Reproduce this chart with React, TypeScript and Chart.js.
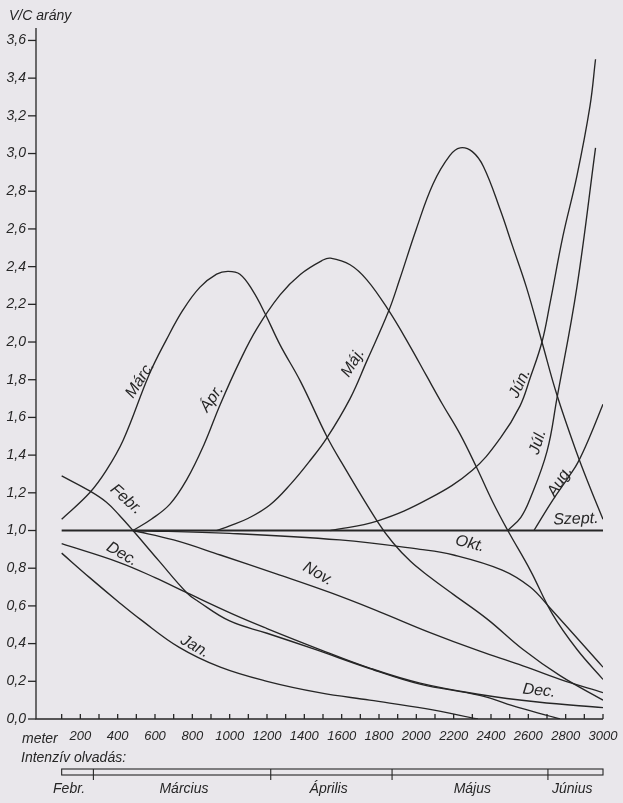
import { useEffect, useRef } from "react";
import { Chart, registerables } from "chart.js";

Chart.register(...registerables);

const W = 623;
const H = 803;
const BG = "#e9e7eb";
const INK = "#262626";
const FONT = '"Liberation Sans Narrow", "Liberation Sans", "DejaVu Sans", sans-serif';

// ---- data: [altitude in metres, V/C ratio] ----
const szept = [[100, 1.0], [3000, 1.0]];
const jan = [[100, 0.88], [250, 0.75], [400, 0.625], [520, 0.53], [730, 0.38], [950, 0.275], [1200, 0.2], [1480, 0.14], [1750, 0.1], [2050, 0.055], [2330, 0.0]];
const febr = [[100, 1.29], [250, 1.21], [340, 1.15], [410, 1.08], [482, 1.0], [620, 0.84], [770, 0.67], [830, 0.625], [1000, 0.52], [1200, 0.455], [1450, 0.372], [1750, 0.268], [2020, 0.185], [2340, 0.125], [2550, 0.06], [2770, 0.0]];
const marc = [[100, 1.06], [250, 1.2], [340, 1.32], [430, 1.48], [570, 1.83], [660, 2.01], [750, 2.17], [840, 2.29], [930, 2.36], [990, 2.375], [1055, 2.36], [1125, 2.27], [1190, 2.15], [1270, 1.985], [1380, 1.79], [1520, 1.5], [1600, 1.36], [1790, 1.05], [1875, 0.935], [1970, 0.835], [2070, 0.755], [2200, 0.66], [2380, 0.53], [2570, 0.37], [2770, 0.23], [3000, 0.1]];
const apr = [[482, 1.0], [580, 1.06], [680, 1.14], [770, 1.27], [860, 1.45], [950, 1.67], [1055, 1.9], [1145, 2.07], [1270, 2.25], [1380, 2.36], [1500, 2.435], [1540, 2.445], [1645, 2.41], [1735, 2.33], [1850, 2.17], [1965, 1.98], [2055, 1.82], [2140, 1.67], [2235, 1.51], [2325, 1.33], [2410, 1.15], [2490, 1.0], [2610, 0.79], [2730, 0.555], [2860, 0.37], [3000, 0.21]];
const maj = [[930, 1.0], [1000, 1.025], [1100, 1.065], [1215, 1.135], [1330, 1.25], [1430, 1.37], [1520, 1.49], [1645, 1.7], [1735, 1.9], [1850, 2.16], [1910, 2.33], [2000, 2.6], [2090, 2.84], [2180, 2.99], [2235, 3.03], [2300, 3.01], [2360, 2.93], [2450, 2.7], [2515, 2.51], [2590, 2.29], [2673, 2.0], [2753, 1.72], [2860, 1.41], [2930, 1.23], [3000, 1.06]];
const jun = [[1540, 1.0], [1790, 1.05], [2070, 1.17], [2300, 1.32], [2450, 1.49], [2555, 1.66], [2610, 1.81], [2673, 2.0], [2715, 2.2], [2785, 2.56], [2860, 2.88], [2930, 3.25], [2960, 3.5]];
const jul = [[2490, 1.0], [2560, 1.07], [2610, 1.17], [2700, 1.42], [2753, 1.7], [2860, 2.29], [2960, 3.03]];
const aug = [[2630, 1.0], [2730, 1.16], [2820, 1.29], [2865, 1.36], [2930, 1.5], [3000, 1.67]];
const okt = [[482, 1.0], [1000, 0.985], [1590, 0.95], [2020, 0.9], [2200, 0.87], [2460, 0.79], [2610, 0.7], [2715, 0.59], [3000, 0.275]];
const nov = [[482, 1.0], [700, 0.95], [950, 0.87], [1250, 0.77], [1540, 0.67], [1800, 0.57], [2070, 0.46], [2340, 0.36], [2550, 0.29], [2770, 0.21], [3000, 0.14]];
const dec = [[100, 0.93], [410, 0.83], [600, 0.75], [770, 0.67], [1020, 0.555], [1200, 0.48], [1480, 0.37], [1750, 0.27], [2020, 0.19], [2340, 0.13], [2650, 0.09], [3000, 0.06]];

const series = [
  { name: "Szept.", data: szept, width: 2 },
  { name: "Jan.", data: jan },
  { name: "Febr.", data: febr },
  { name: "Márc.", data: marc },
  { name: "Ápr.", data: apr },
  { name: "Máj.", data: maj },
  { name: "Jún.", data: jun },
  { name: "Júl.", data: jul },
  { name: "Aug.", data: aug },
  { name: "Okt.", data: okt },
  { name: "Nov.", data: nov },
  { name: "Dec.", data: dec },
];

// ---- axes ----
const yTicks = [0, 0.2, 0.4, 0.6, 0.8, 1.0, 1.2, 1.4, 1.6, 1.8, 2.0, 2.2, 2.4, 2.6, 2.8, 3.0, 3.2, 3.4, 3.6];
const xTicks = [100, 200, 300, 400, 500, 600, 700, 800, 900, 1000, 1100, 1200, 1300, 1400, 1500, 1600, 1700, 1800, 1900, 2000, 2100, 2200, 2300, 2400, 2500, 2600, 2700, 2800, 2900, 3000];
const xTickLabels = [200, 400, 600, 800, 1000, 1200, 1400, 1600, 1800, 2000, 2200, 2400, 2600, 2800, 3000];

// ---- intensive melting timeline ----
const meltBounds = [100, 270, 1220, 1870, 2705, 3000];
const meltMonths = ["Febr.", "Március", "Április", "Május", "Június"];
const meltLabelAt = [140, 755, 1530, 2300, 2835];

// ---- curve labels: [text, altitude, ratio, rotation deg] ----
const curveLabels: [string, number, number, number][] = [
  ["Márc.", 520, 1.8, -57],
  ["Ápr.", 905, 1.7, -55],
  ["Máj.", 1660, 1.89, -58],
  ["Jún.", 2555, 1.78, -65],
  ["Júl.", 2651, 1.47, -72],
  ["Aug.", 2769, 1.26, -58],
  ["Szept.", 2855, 1.06, -2],
  ["Okt.", 2287, 0.93, 14],
  ["Nov.", 1473, 0.77, 30],
  ["Febr.", 445, 1.165, 42],
  ["Dec.", 423, 0.875, 30],
  ["Jan.", 814, 0.385, 30],
  ["Dec.", 2657, 0.15, 6],
];

const paperPlugin = {
  id: "paper",
  beforeDraw(chart: any) {
    const ctx = chart.ctx;
    ctx.save();
    ctx.fillStyle = BG;
    ctx.fillRect(0, 0, W, H);
    ctx.restore();
  },
  afterDraw(chart: any) {
    const { ctx, chartArea } = chart;
    const xs = chart.scales.x;
    const ys = chart.scales.y;
    const L = chartArea.left;
    const B = chartArea.bottom;
    const R = xs.getPixelForValue(3000);
    ctx.save();
    ctx.strokeStyle = INK;
    ctx.fillStyle = INK;
    ctx.lineWidth = 1.3;

    // axes lines
    ctx.beginPath();
    ctx.moveTo(L, chartArea.top);
    ctx.lineTo(L, B);
    ctx.lineTo(R, B);
    ctx.stroke();

    // y ticks + labels
    ctx.font = `italic 14px ${FONT}`;
    ctx.textAlign = "right";
    ctx.textBaseline = "middle";
    yTicks.forEach((v) => {
      const py = ys.getPixelForValue(v);
      ctx.beginPath();
      ctx.moveTo(L - 8, py);
      ctx.lineTo(L, py);
      ctx.stroke();
      ctx.fillText(v.toFixed(1).replace(".", ","), L - 10, py);
    });

    // x ticks
    xTicks.forEach((m) => {
      const px = xs.getPixelForValue(m);
      ctx.beginPath();
      ctx.moveTo(px, B);
      ctx.lineTo(px, B - 5);
      ctx.stroke();
    });
    ctx.textAlign = "center";
    ctx.font = `italic 13px ${FONT}`;
    xTickLabels.forEach((m) => {
      ctx.fillText(String(m), xs.getPixelForValue(m), B + 17);
    });
    ctx.textAlign = "left";
    ctx.font = `italic 14px ${FONT}`;
    ctx.fillText("meter", 22, B + 20);

    // y title
    ctx.fillText("V/C arány", 9, 16);

    // timeline
    ctx.fillText("Intenzív olvadás:", 21, 758);
    const top = 769;
    const bot = 775;
    const x0 = xs.getPixelForValue(meltBounds[0]);
    const x1 = xs.getPixelForValue(meltBounds[meltBounds.length - 1]);
    ctx.lineWidth = 1.1;
    ctx.strokeRect(x0, top, x1 - x0, bot - top);
    for (let i = 1; i < meltBounds.length - 1; i++) {
      const px = xs.getPixelForValue(meltBounds[i]);
      ctx.beginPath();
      ctx.moveTo(px, top);
      ctx.lineTo(px, bot + 5);
      ctx.stroke();
    }
    ctx.textAlign = "center";
    ctx.font = `italic 14px ${FONT}`;
    meltMonths.forEach((t, i) => {
      ctx.fillText(t, xs.getPixelForValue(meltLabelAt[i]), 789);
    });

    // curve labels
    ctx.font = `italic 16px ${FONT}`;
    curveLabels.forEach(([t, m, v, rot]) => {
      ctx.save();
      ctx.translate(xs.getPixelForValue(m), ys.getPixelForValue(v));
      ctx.rotate((rot * Math.PI) / 180);
      ctx.textAlign = "center";
      ctx.textBaseline = "middle";
      ctx.fillText(t, 0, 0);
      ctx.restore();
    });
    ctx.restore();
  },
};

export default function App() {
  const ref = useRef<HTMLCanvasElement>(null);
  useEffect(() => {
    document.body.style.margin = "0";
    document.body.style.background = BG;
    const canvas = ref.current!;
    const chart = new Chart(canvas, {
      type: "scatter",
      data: {
        datasets: series.map((s: any) => ({
          label: s.name,
          data: s.data.map(([x, y]: number[]) => ({ x, y })),
          showLine: true,
          borderColor: INK,
          backgroundColor: INK,
          borderWidth: s.width ?? 1.35,
          pointRadius: 0,
          pointHoverRadius: 0,
          tension: 0.4,
          fill: false,
        })),
      },
      options: {
        responsive: false,
        animation: false,
        devicePixelRatio: 1,
        events: [],
        layout: { padding: { left: 36, top: 28, right: 20, bottom: 84 } },
        plugins: { legend: { display: false }, tooltip: { enabled: false } },
        scales: {
          x: { type: "linear", display: false, min: -37.5, max: 3000 },
          y: { type: "linear", display: false, min: 0, max: 3.666 },
        },
      },
      plugins: [paperPlugin],
    } as any);
    return () => chart.destroy();
  }, []);
  return (
    <div style={{ position: "absolute", left: 0, top: 0, width: W, height: H, background: BG }}>
      <canvas ref={ref} width={W} height={H} style={{ display: "block", width: W, height: H }} />
    </div>
  );
}
